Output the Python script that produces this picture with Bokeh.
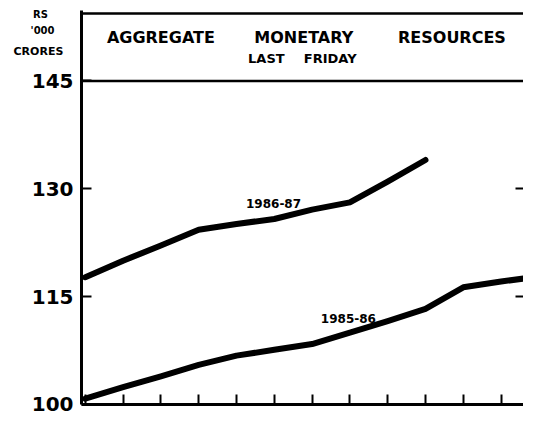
from bokeh.plotting import figure
from bokeh.models import FixedTicker, LinearAxis, BoxAnnotation, Label
from bokeh.embed import file_html
from bokeh.resources import INLINE

# ---- data (Rs '000 crores) ----
months_8687 = [0, 1, 2, 3, 4, 5, 6, 7, 8, 9]
values_8687 = [117.7, 120.0, 122.1, 124.3, 125.1, 125.8, 127.1, 128.1, 131.0, 134.0]
months_8586 = [0, 1, 2, 3, 4, 5, 6, 7, 8, 9, 10, 11, 12]
values_8586 = [100.8, 102.4, 103.9, 105.5, 106.8, 107.6, 108.4, 110.0, 111.6, 113.3, 116.3, 117.1, 117.8]
y_ticks = [100, 115, 130, 145]
x_ticks = list(range(13))
series_labels = ["1986-87", "1985-86"]
title_words = ["AGGREGATE", "MONETARY", "RESOURCES"]
subtitle_words = ["LAST", "FRIDAY"]
unit_lines = ["RS", "'000", "CRORES"]

FONT = "DejaVu Sans"
X0, X1 = -2.243, 11.593
Y0, Y1 = 98.33, 156.18
AXIS_X = -0.1
HEADER_TOP = 154.37

p = figure(width=523, height=416, x_range=(X0, X1), y_range=(Y0, Y1),
           output_backend="svg", toolbar_location=None,
           x_axis_location=None, y_axis_location=None,
           min_border_left=0, min_border_right=0, min_border_top=0, min_border_bottom=0)
p.background_fill_color = "white"
p.border_fill_color = "white"
p.outline_line_color = None
p.xgrid.visible = False
p.ygrid.visible = False

# left axis, drawn at the start of the months
ya = LinearAxis(ticker=FixedTicker(ticks=y_ticks), fixed_location=AXIS_X, bounds=(100, HEADER_TOP + 0.4))
ya.axis_line_color = "black"
ya.axis_line_width = 3
ya.major_tick_in = 10
ya.major_tick_out = 0
ya.major_tick_line_width = 2
ya.minor_tick_line_color = None
ya.major_label_text_font = FONT
ya.major_label_text_font_style = "bold"
ya.major_label_text_font_size = "20px"
ya.major_label_text_color = "black"
ya.major_label_standoff = 8
p.add_layout(ya, "left")

# bottom axis (ticks only)
xa = LinearAxis(ticker=FixedTicker(ticks=x_ticks), fixed_location=100, bounds=(AXIS_X, 13))
xa.axis_line_color = "black"
xa.axis_line_width = 3
xa.major_tick_in = 10
xa.major_tick_out = 0
xa.major_tick_line_width = 2
xa.minor_tick_line_color = None
xa.major_label_overrides = {t: "" for t in x_ticks}
p.add_layout(xa, "below")

# right axis (ticks only)
ra = LinearAxis(ticker=FixedTicker(ticks=[115, 130]), fixed_location=X1)
ra.axis_line_color = None
ra.major_tick_in = 8
ra.major_tick_out = 0
ra.major_tick_line_width = 2
ra.minor_tick_line_color = None
ra.major_label_overrides = {115: "", 130: ""}
p.add_layout(ra, "right")

# header box
p.add_layout(BoxAnnotation(left=AXIS_X, right=X1 + 1, bottom=145, top=HEADER_TOP,
                           fill_color=None, fill_alpha=0, line_color="black",
                           line_alpha=1.0, line_width=2.5))

# series lines
p.line(months_8687, values_8687, line_color="black", line_width=6, line_join="round", line_cap="round")
p.line(months_8586, values_8586, line_color="black", line_width=6, line_join="round", line_cap="round")

def lab(x, y, text, size):
    p.add_layout(Label(x=x, y=y, text=text, text_font=FONT, text_font_style="bold",
                       text_font_size=size, text_color="black",
                       text_align="center", text_baseline="middle"))

# title words
for xw, w in zip([2.0, 5.78, 9.70], title_words):
    lab(xw, 151.0, w, "16px")
for xw, w in zip([4.79, 6.48], subtitle_words):
    lab(xw, 148.1, w, "13px")

# series labels
lab(4.98, 127.9, series_labels[0], "12px")
lab(6.96, 111.9, series_labels[1], "12px")

# unit label
for xu, yu, t, s in zip([-1.185, -1.13, -1.24], [154.24, 151.96, 149.15], unit_lines, ["10px", "10px", "11px"]):
    lab(xu, yu, t, s)

open("out.html", "w").write(file_html(p, INLINE))
